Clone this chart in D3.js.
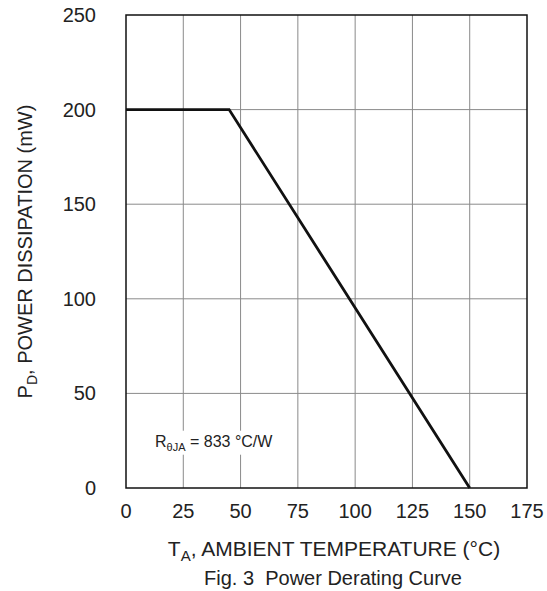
<!DOCTYPE html>
<html>
<head>
<meta charset="utf-8">
<script src="https://cdn.jsdelivr.net/npm/d3@7"></script>
<style>
  body { margin: 0; background: #fff; }
  text { font-family: Arial, "Liberation Sans", sans-serif; fill: #222; }
</style>
</head>
<body>
<div id="chart"></div>
<script>
var xTicks = [0, 25, 50, 75, 100, 125, 150, 175];
var yTicks = [0, 50, 100, 150, 200, 250];
var temperature = [0, 45, 150];
var power = [200, 200, 0];

var width = 547,
    height = 591;
var margin = { left: 126, right: 20, top: 15, bottom: 103 };

var svg = d3.select("#chart")
  .append("svg")
    .attr("width", width)
    .attr("height", height);

var x = d3.scaleLinear()
  .domain([0, 175])
  .range([margin.left, width - margin.right]);
var y = d3.scaleLinear()
  .domain([0, 250])
  .range([height - margin.bottom, margin.top]);

// grid
svg.append("g")
  .selectAll("line")
  .data(xTicks.slice(1, -1))
  .enter()
    .append("line")
    .attr("x1", function(d) { return x(d); })
    .attr("x2", function(d) { return x(d); })
    .attr("y1", y(0))
    .attr("y2", y(250))
    .attr("stroke", "#8a8a8a")
    .attr("stroke-width", 1);

svg.append("g")
  .selectAll("line")
  .data(yTicks.slice(1, -1))
  .enter()
    .append("line")
    .attr("x1", x(0))
    .attr("x2", x(175))
    .attr("y1", function(d) { return y(d); })
    .attr("y2", function(d) { return y(d); })
    .attr("stroke", "#8a8a8a")
    .attr("stroke-width", 1);

// annotation, with a white box behind it
var note = svg.append("g")
  .attr("transform", "translate(" + (x(0) + 29) + "," + (y(25) + 6) + ")");
var noteBox = note.append("rect").attr("fill", "#fff");
var noteText = note.append("text")
  .attr("font-size", "16px");
noteText.append("tspan").text("R");
noteText.append("tspan").attr("font-size", "11px").attr("dy", 4).text("θJA");
noteText.append("tspan").attr("dy", -4).text(" = 833 °C/W");
var bb = noteText.node().getBBox();
noteBox
  .attr("x", bb.x - 3)
  .attr("y", bb.y - 2)
  .attr("width", bb.width + 6)
  .attr("height", bb.height + 4);

// frame
svg.append("rect")
  .attr("x", x(0))
  .attr("y", y(250))
  .attr("width", x(175) - x(0))
  .attr("height", y(0) - y(250))
  .attr("fill", "none")
  .attr("stroke", "#111")
  .attr("stroke-width", 1.5);

// derating curve
var line = d3.line()
  .x(function(d, i) { return x(temperature[i]); })
  .y(function(d, i) { return y(power[i]); });
svg.append("path")
  .datum(temperature)
  .attr("d", line)
  .attr("fill", "none")
  .attr("stroke", "#111")
  .attr("stroke-width", 2.8);

// axes labels
svg.append("g")
  .selectAll("text")
  .data(xTicks)
  .enter()
    .append("text")
    .attr("x", function(d) { return x(d); })
    .attr("y", y(0) + 30)
    .attr("text-anchor", "middle")
    .attr("font-size", "20px")
    .text(function(d) { return d; });

svg.append("g")
  .selectAll("text")
  .data(yTicks)
  .enter()
    .append("text")
    .attr("x", x(0) - 30)
    .attr("y", function(d) { return y(d) + 7; })
    .attr("text-anchor", "end")
    .attr("font-size", "20px")
    .text(function(d) { return d; });

// axis titles
var xTitle = svg.append("text")
  .attr("x", 334)
  .attr("y", 556)
  .attr("text-anchor", "middle")
  .attr("font-size", "21px");
xTitle.append("tspan").text("T");
xTitle.append("tspan").attr("font-size", "15px").attr("dy", 5).text("A");
xTitle.append("tspan").attr("dy", -5).text(", AMBIENT TEMPERATURE (°C)");

svg.append("text")
  .attr("x", 333)
  .attr("y", 585)
  .attr("text-anchor", "middle")
  .attr("font-size", "20px")
  .attr("xml:space", "preserve")
  .text("Fig. 3  Power Derating Curve");

var yTitle = svg.append("text")
  .attr("transform", "translate(32," + ((y(0) + y(250)) / 2) + ") rotate(-90)")
  .attr("text-anchor", "middle")
  .attr("font-size", "20px");
yTitle.append("tspan").text("P");
yTitle.append("tspan").attr("font-size", "14px").attr("dy", 5).text("D");
yTitle.append("tspan").attr("dy", -5).text(", POWER DISSIPATION (mW)");
</script>
</body>
</html>
